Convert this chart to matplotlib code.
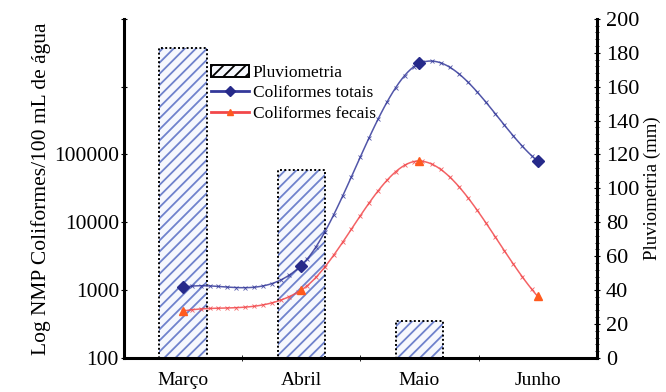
import matplotlib
matplotlib.use('Agg')
import matplotlib.pyplot as plt
import numpy as np
from matplotlib.patches import Patch
from matplotlib.lines import Line2D
from matplotlib.ticker import FixedLocator, MultipleLocator

plt.rcParams['font.family'] = ['Liberation Serif', 'DejaVu Serif']
plt.rcParams['hatch.linewidth'] = 1.3

meses = ['Março', 'Abril', 'Maio', 'Junho']
pluviometria = [183, 111, 22, 0]               # mm
coli_totais = [1100, 2300, 2.2e6, 80000]        # NMP/100 mL
coli_fecais = [490, 1000, 80000, 810]

BLUE = '#34399a'
RED = '#f2474a'
HATCH = '#6f82cc'


def smooth(xs, ys, n=40):
    # catmull-rom through the points, done in log space so it looks right on the log axis
    x = np.asarray(xs, float)
    y = np.log10(np.asarray(ys, float))
    px = np.concatenate([[2 * x[0] - x[1]], x, [2 * x[-1] - x[-2]]])
    py = np.concatenate([[2 * y[0] - y[1]], y, [2 * y[-1] - y[-2]]])
    outx, outy = [], []
    for i in range(1, len(px) - 2):
        t = np.linspace(0, 1, n, endpoint=(i == len(px) - 3))
        for p, out in ((px, outx), (py, outy)):
            p0, p1, p2, p3 = p[i - 1], p[i], p[i + 1], p[i + 2]
            out.extend(0.5 * ((2 * p1) + (-p0 + p2) * t
                              + (2 * p0 - 5 * p1 + 4 * p2 - p3) * t ** 2
                              + (-p0 + 3 * p1 - 3 * p2 + p3) * t ** 3))
    return np.array(outx), 10 ** np.array(outy)


fig = plt.figure(figsize=(6.66, 3.92), dpi=100)
ax = fig.add_axes([0.186, 0.087, 0.710, 0.865])
ax2 = ax.twinx()

x = np.arange(len(meses))

# bars (right axis)
ax2.bar(x, pluviometria, width=0.4, facecolor='#f6f8fd', edgecolor='black',
        hatch='///', linewidth=1.4, linestyle=(0, (1, 1.2)))
for b in ax2.patches:
    b._hatch_color = matplotlib.colors.to_rgba(HATCH)
ax2.set_ylim(0, 200)
ax2.yaxis.set_major_locator(MultipleLocator(20))
ax2.yaxis.set_minor_locator(MultipleLocator(4))
ax2.set_ylabel('Pluviometria (mm)', fontsize=13.5, labelpad=3)

# coliform lines (left log axis)
ax.set_zorder(ax2.get_zorder() + 1)
ax.patch.set_visible(False)
for vals, col, mk, mcol in ((coli_totais, BLUE, 'D', '#262a8a'),
                            (coli_fecais, RED, '^', '#ff5a1e')):
    sx, sy = smooth(x, vals)
    ax.plot(sx, sy, color=col, lw=1.1, marker='x', ms=2.5, mew=0.6,
            markevery=3, alpha=0.85)
    ax.plot(x, vals, linestyle='none', marker=mk, ms=6, color=mcol)

ax.set_yscale('log')
ax.set_ylim(100, 1e7)
ax.set_xlim(-0.5, 3.5)
ax.set_yticks([1e2, 1e3, 1e4, 1e5, 1e6, 1e7])
ax.yaxis.set_minor_locator(FixedLocator([]))
ax.set_yticklabels(['100', '1000', '10000', '100000', '', ''])
ax.set_ylabel('Log NMP Coliformes/100 mL de água', fontsize=15.5, labelpad=2)

ax.set_xticks(x)
ax.set_xticklabels(meses)
ax.xaxis.set_minor_locator(FixedLocator([0.5, 1.5, 2.5]))
ax.tick_params(axis='x', which='major', length=0, labelsize=14, pad=10)
ax.tick_params(axis='x', which='minor', length=5, direction='inout')
ax.tick_params(axis='y', labelsize=15.5, length=5, direction='inout', pad=1)
ax2.tick_params(axis='y', which='major', labelsize=16, length=5, direction='inout', pad=4)
ax2.tick_params(axis='y', which='minor', length=3, direction='inout')

# dotted frame like the original
for a in (ax, ax2):
    a.spines['top'].set_visible(False)
    for s in ('left', 'right', 'bottom'):
        a.spines[s].set_linestyle((0, (1, 1)))
        a.spines[s].set_linewidth(2.2)
ax.spines['right'].set_visible(False)
ax2.spines['left'].set_visible(False)
ax2.spines['bottom'].set_visible(False)

handles = [
    Patch(facecolor='#f6f8fd', edgecolor='black', hatch='///', linewidth=1.4),
    Line2D([], [], color=BLUE, marker='D', ms=5, mfc='#262a8a', mec='#262a8a', lw=2),
    Line2D([], [], color=RED, marker='^', ms=5, mfc='#ff5a1e', mec='#ff5a1e', lw=2),
]
ax.legend(handles, ['Pluviometria', 'Coliformes totais', 'Coliformes fecais'],
          loc='upper left', bbox_to_anchor=(0.17, 0.885), frameon=False,
          fontsize=12.5, handlelength=2.2, handletextpad=0.2, labelspacing=0.25,
          borderaxespad=0)

fig.savefig('out.png', dpi=100)
